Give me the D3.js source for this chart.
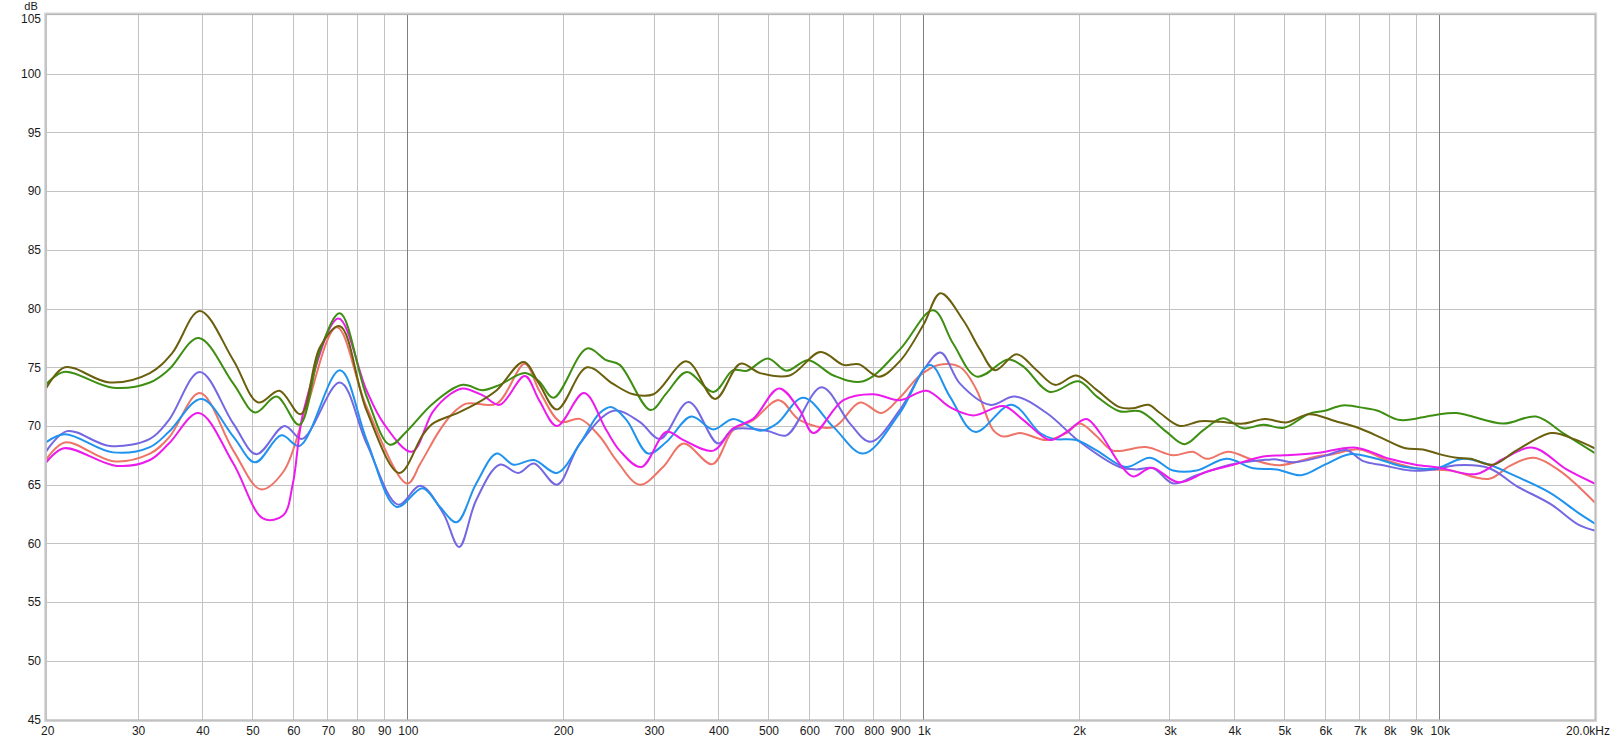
<!DOCTYPE html>
<html>
<head>
<meta charset="utf-8">
<script src="https://cdn.jsdelivr.net/npm/d3@7"></script>
<style>
  html, body { margin: 0; padding: 0; background: #fff; }
  svg { display: block; }
  text { font-family: "Liberation Sans", Arial, sans-serif; font-size: 12px; fill: #1a1a1a; }
</style>
</head>
<body>
<svg id="chart" width="1617" height="741"></svg>
<script>
// ---------- data (frequency in Hz, level in dB) ----------
const yTicks = [45, 50, 55, 60, 65, 70, 75, 80, 85, 90, 95, 100, 105];
const xGridFreqs = [30, 40, 50, 60, 70, 80, 90, 100, 200, 300, 400, 500, 600, 700, 800, 900,
                    1000, 2000, 3000, 4000, 5000, 6000, 7000, 8000, 9000, 10000];
const decadeFreqs = [100, 1000, 10000];
const xTickLabels = [
  [20, "20"], [30, "30"], [40, "40"], [50, "50"], [60, "60"], [70, "70"], [80, "80"], [90, "90"],
  [100, "100"], [200, "200"], [300, "300"], [400, "400"], [500, "500"], [600, "600"], [700, "700"],
  [800, "800"], [900, "900"], [1000, "1k"], [2000, "2k"], [3000, "3k"], [4000, "4k"], [5000, "5k"],
  [6000, "6k"], [7000, "7k"], [8000, "8k"], [9000, "9k"], [10000, "10k"]
];
const lastXLabel = [20000, "20.0kHz"];

const salmon = [[20,67.2],[21.7,68.6],[26.9,67.0],[31.7,67.65],[34.5,69.0],[39.6,72.8],[46,67.9],[52,64.6],[57.5,66.1],[63,70.8],[73,78.4],[83.4,71.6],[100,65.1],[106,66.8],[115,69.5],[122,71.0],[130,71.9],[149,71.9],[169,75.3],[180,73.05],[198,70.35],[216,70.6],[236,69.1],[254,67.1],[282,65.0],[313,66.5],[343,68.5],[390,66.75],[428,69.65],[468,70.5],[525,72.2],[576,70.5],[670,69.9],[754,72.0],[830,71.1],[900,72.4],[985,74.3],[1070,75.2],[1180,75.0],[1269,73.05],[1366,69.65],[1430,69.1],[1540,69.4],[1734,68.8],[1896,69.4],[2010,70.2],[2170,69.1],[2330,67.9],[2700,68.2],[3050,67.5],[3330,67.8],[3540,67.2],[3900,67.8],[4360,67.1],[4900,66.65],[5780,67.4],[6230,67.6],[7000,68.0],[8000,67.0],[9040,66.4],[10500,66.2],[12500,65.5],[13700,66.6],[15200,67.3],[17100,66.2],[20000,63.5]];

const magenta = [[20,66.95],[21.6,68.1],[27.3,66.6],[31.7,67.1],[34.5,68.5],[39.4,71.1],[46,66.8],[52.6,62.1],[57.5,62.4],[60,65.1],[63,71.35],[73.5,79.15],[83.4,73.0],[90,70.2],[102,67.8],[112,71.2],[121,72.7],[128,73.2],[140,72.6],[151,71.8],[169,74.25],[180,72.2],[195,70.0],[220,72.8],[243,69.65],[258,67.9],[284,66.5],[318,69.5],[343,68.8],[392,67.9],[428,69.8],[468,70.6],[525,73.2],[576,71.35],[612,69.4],[700,72.2],[800,72.7],[900,72.2],[1015,73.0],[1126,71.6],[1250,70.9],[1430,71.7],[1563,70.5],[1760,68.8],[1896,69.5],[2070,70.6],[2200,69.4],[2400,66.8],[2550,65.7],[2770,66.45],[3120,65.2],[3540,66.1],[3990,66.7],[4560,67.4],[5000,67.5],[5780,67.7],[6900,68.15],[8000,67.2],[9000,66.7],[10000,66.45],[11800,65.9],[13300,67.2],[15200,68.15],[17650,66.3],[20000,65.1]];

const purple = [[20,67.9],[21.9,69.56],[26.5,68.3],[31.7,68.9],[34.5,70.5],[39.6,74.6],[46,70.2],[51,67.6],[57.8,70.0],[62.5,68.9],[74,73.7],[83.4,68.5],[96,63.3],[106,64.9],[117.4,62.55],[126,59.7],[136,63.7],[151,66.7],[164,66.0],[176,66.8],[195,65.0],[216,68.5],[251,71.3],[282,70.35],[309,68.9],[351,72.05],[400,68.5],[428,69.7],[497,69.6],[543,69.2],[635,73.3],[721,70.2],[790,68.65],[900,71.35],[1000,74.75],[1080,76.25],[1178,73.6],[1346,71.8],[1505,72.5],[1734,71.1],[2010,68.65],[2400,66.5],[2590,66.3],[2790,66.4],[3050,65.1],[3386,65.8],[3930,66.7],[4560,67.1],[4840,67.15],[5210,66.9],[6000,67.45],[6600,67.95],[7120,67.0],[7790,66.65],[8800,66.2],[9800,66.3],[10800,66.65],[12500,66.4],[14100,64.9],[16500,63.3],[18600,61.6],[20000,61.1]];

const blue = [[20,68.65],[21.7,69.3],[26.9,67.75],[31.7,68.2],[34.5,69.5],[39.9,72.3],[46,69.1],[50.7,66.9],[57,69.2],[61.8,68.3],[74,74.75],[83.4,68.8],[95.4,63.1],[107,64.7],[115.7,63.1],[124.6,61.8],[136,65.1],[149,67.65],[160.5,66.7],[176,67.1],[195,66.0],[216,68.5],[236,71.1],[249,71.6],[266,70.5],[293,67.65],[318,68.65],[355,70.8],[392,69.7],[428,70.6],[483,69.6],[520,70.2],[585,72.4],[670,69.9],[765,67.65],[900,71.1],[1030,75.2],[1126,72.5],[1259,69.5],[1483,71.8],[1683,69.4],[1786,68.9],[1980,68.8],[2170,67.9],[2470,66.5],[2750,67.3],[3050,66.2],[3386,66.2],[3870,67.2],[4360,66.4],[4840,66.3],[5400,65.8],[6000,66.7],[6700,67.6],[7560,67.2],[8600,66.5],[9880,66.4],[11100,67.2],[12500,66.7],[14100,65.7],[16400,64.3],[18600,62.6],[20000,61.7]];

const green = [[20,73.6],[21.6,74.6],[26.9,73.25],[31.7,73.7],[34.5,74.8],[39.4,77.5],[46,73.6],[50.7,71.15],[55.8,72.5],[61.7,70.1],[67.7,76.4],[74,79.6],[83.4,72.5],[92.5,68.4],[100,69.6],[112,71.9],[128,73.5],[140,73.05],[151,73.5],[169,74.5],[180,73.8],[192,72.4],[223,76.6],[243,75.6],[258,75.2],[296,71.35],[318,72.8],[348,74.6],[392,72.9],[428,74.75],[455,74.7],[500,75.75],[543,74.7],[598,75.6],[670,74.3],[765,73.8],[900,76.5],[1045,79.85],[1143,77.0],[1270,74.2],[1461,75.65],[1563,75.05],[1760,72.9],[2000,73.8],[2170,72.5],[2400,71.25],[2630,71.25],[2960,69.5],[3210,68.45],[3490,69.65],[3810,70.65],[4170,69.8],[4560,70.1],[5000,69.85],[5600,71.05],[6000,71.3],[6500,71.75],[7200,71.5],[7600,71.3],[8400,70.5],[9700,70.9],[10800,71.1],[13300,70.2],[15400,70.8],[17500,69.3],[20000,67.7]];

const olive = [[20,73.3],[21.7,75.0],[26.5,73.7],[31.7,74.5],[35,76.2],[39.6,79.8],[46,75.6],[51.4,72.0],[56.5,73.0],[62.1,71.0],[67.7,76.7],[74,78.5],[83.4,71.3],[96.5,66.0],[107,69.2],[112,70.2],[125,71.1],[136,71.9],[149,73.05],[168,75.45],[180,73.6],[195,71.4],[223,75.0],[250,73.6],[274,72.7],[300,72.7],[348,75.5],[395,72.3],[442,75.3],[483,74.5],[551,74.3],[632,76.3],[700,75.2],[750,75.25],[820,74.2],[900,75.5],[1000,78.6],[1080,81.3],[1195,79.0],[1288,76.5],[1377,74.75],[1516,76.1],[1658,74.75],[1800,73.5],[1980,74.3],[2170,73.05],[2400,71.6],[2550,71.5],[2730,71.8],[2875,71.1],[3140,70.0],[3440,70.4],[3760,70.35],[4170,70.2],[4590,70.6],[5050,70.3],[5600,71.0],[6300,70.4],[7000,69.8],[7800,68.9],[8600,68.1],[9300,68.0],[10000,67.6],[10800,67.3],[11500,67.2],[12700,66.7],[14100,67.9],[16500,69.4],[18200,68.9],[20000,68.1]];

const seriesList = [
  { data: salmon,  color: "#ef7468" },
  { data: purple,  color: "#7468e2" },
  { data: blue,    color: "#1f93ee" },
  { data: magenta, color: "#ec1aec" },
  { data: green,   color: "#3e8e12" },
  { data: olive,   color: "#6a5f0c" }
];

// ---------- layout ----------
const plot = { left: 46.7, right: 1594.6, top: 15, bottom: 719.5 };
const svg = d3.select("#chart");

const x = d3.scaleLog().domain([20, 20000]).range([plot.left, plot.right]);
const y = d3.scaleLinear().domain([45, 105]).range([plot.bottom, plot.top]);

// grid
const grid = svg.append("g").attr("shape-rendering", "crispEdges");
grid.selectAll("line.h").data(yTicks.filter(d => d > 45 && d < 105)).join("line")
  .attr("x1", plot.left).attr("x2", plot.right)
  .attr("y1", d => Math.round(y(d)) + 0.5).attr("y2", d => Math.round(y(d)) + 0.5)
  .attr("stroke", "#c3c3c3").attr("stroke-width", 1);
grid.selectAll("line.v").data(xGridFreqs).join("line")
  .attr("y1", plot.top).attr("y2", plot.bottom)
  .attr("x1", d => Math.round(x(d)) + 0.5).attr("x2", d => Math.round(x(d)) + 0.5)
  .attr("stroke", d => decadeFreqs.includes(d) ? "#7f7f7f" : "#c3c3c3")
  .attr("stroke-width", 1);

// curves
const clipId = "plotclip";
svg.append("clipPath").attr("id", clipId).append("rect")
  .attr("x", plot.left).attr("y", plot.top)
  .attr("width", plot.right - plot.left).attr("height", plot.bottom - plot.top);

const line = d3.line()
  .x(d => x(d[0])).y(d => y(d[1]))
  .curve(d3.curveCatmullRom.alpha(0.5));

svg.append("g").attr("clip-path", `url(#${clipId})`)
  .selectAll("path").data(seriesList).join("path")
  .attr("d", s => line(s.data))
  .attr("fill", "none")
  .attr("stroke", s => s.color)
  .attr("stroke-width", 2)
  .attr("stroke-linejoin", "round")
  .attr("stroke-linecap", "round");

// frame
svg.append("rect")
  .attr("x", plot.left - 1.5).attr("y", plot.top - 1.5)
  .attr("width", plot.right - plot.left + 3).attr("height", plot.bottom - plot.top + 3)
  .attr("fill", "none").attr("stroke", "#d4d4d4").attr("stroke-width", 2);
svg.append("rect")
  .attr("x", plot.left - 0.5).attr("y", plot.top - 0.5)
  .attr("width", plot.right - plot.left + 1).attr("height", plot.bottom - plot.top + 1)
  .attr("fill", "none").attr("stroke", "#b4b4b4").attr("stroke-width", 1.2);

// y labels
svg.append("g").selectAll("text").data(yTicks).join("text")
  .attr("x", 41)
  .attr("y", d => d === 105 ? y(d) + 4 : y(d))
  .attr("dy", "0.36em")
  .attr("text-anchor", "end")
  .text(d => d);
svg.append("text").attr("x", 31).attr("y", 10)
  .attr("text-anchor", "middle").style("font-size", "11px").text("dB");

// x labels
svg.append("g").selectAll("text").data(xTickLabels).join("text")
  .attr("x", d => x(d[0]) + 1)
  .attr("y", 735)
  .attr("text-anchor", "middle")
  .text(d => d[1]);
svg.append("text").attr("x", 1610).attr("y", 735).attr("text-anchor", "end").text(lastXLabel[1]);
</script>
</body>
</html>
